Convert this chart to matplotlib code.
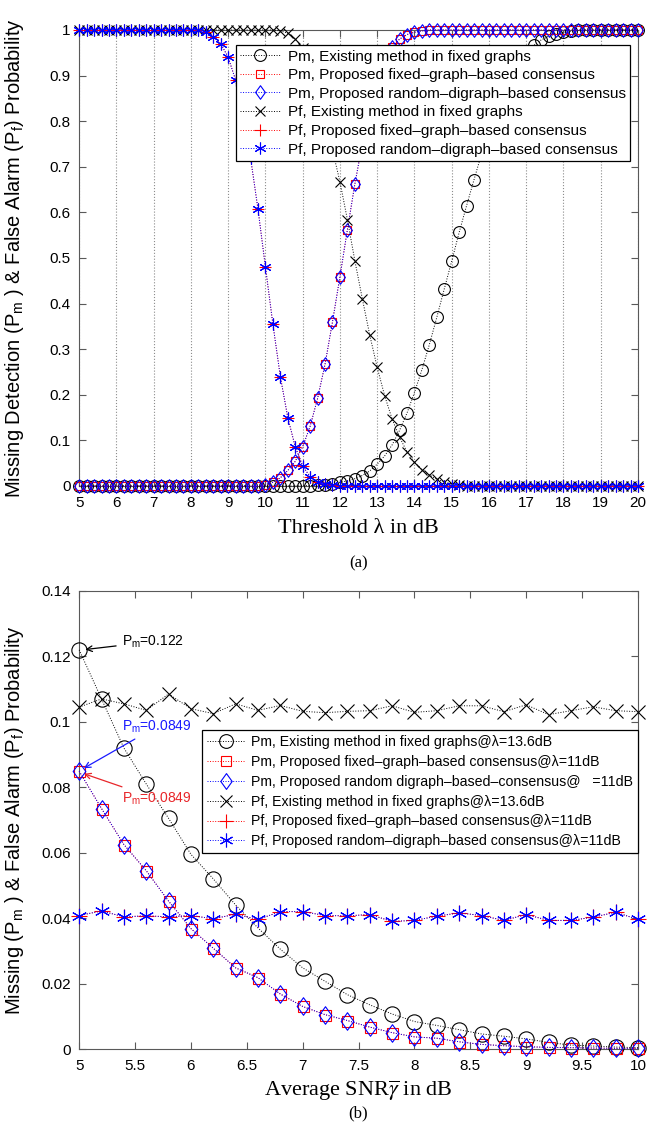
import matplotlib
matplotlib.use("Agg")
import matplotlib.pyplot as plt
import numpy as np
from matplotlib.ticker import FuncFormatter
from matplotlib.path import Path

plt.rcParams['font.family'] = ['Liberation Sans', 'DejaVu Sans']
plt.rcParams['mathtext.fontset'] = 'custom'
plt.rcParams['mathtext.rm'] = 'Liberation Sans'
plt.rcParams['mathtext.it'] = 'Liberation Sans:italic'

# ---- (a) threshold sweep, 5:0.2:20 dB
thr = np.round(np.arange(5.0, 20.01, 0.2), 1)

pm_exist_a = ([0.0] * 30 +
              [0.0005, 0.001, 0.002, 0.003, 0.005, 0.008, 0.011, 0.016, 0.023, 0.033,
               0.048, 0.066, 0.09, 0.122, 0.16, 0.205, 0.255, 0.31, 0.37, 0.432,
               0.493, 0.556, 0.615, 0.672, 0.728, 0.78, 0.826, 0.866, 0.9, 0.928,
               0.95, 0.966, 0.978, 0.986, 0.992, 0.995, 0.997, 0.999] +
              [1.0] * 8)
pm_prop_a = ([0.0] * 25 +
             [0.003, 0.008, 0.018, 0.034, 0.054, 0.086, 0.131, 0.192, 0.267, 0.36,
              0.459, 0.562, 0.662, 0.75, 0.83, 0.89, 0.935, 0.962, 0.98, 0.99,
              0.995, 0.998] +
             [1.0] * 29)
pf_exist_a = ([1.0] * 27 +
              [0.998, 0.993, 0.98, 0.96, 0.925, 0.875, 0.81, 0.737, 0.667, 0.584,
               0.494, 0.411, 0.331, 0.26, 0.198, 0.147, 0.107, 0.075, 0.052, 0.036,
               0.024, 0.015, 0.009, 0.005, 0.002, 0.001] +
              [0.0] * 23)
pf_prop_a = ([1.0] * 16 +
             [0.999, 0.995, 0.985, 0.97, 0.94, 0.89, 0.82, 0.72, 0.607, 0.48,
              0.355, 0.24, 0.15, 0.086, 0.044, 0.02, 0.009, 0.004, 0.002, 0.001] +
             [0.0] * 40)

labels_a = ['Pm, Existing method in fixed graphs',
            'Pm, Proposed fixed\u2013graph\u2013based consensus',
            'Pm, Proposed random\u2013digraph\u2013based consensus',
            'Pf, Existing method in fixed graphs',
            'Pf, Proposed fixed\u2013graph\u2013based consensus',
            'Pf, Proposed random\u2013digraph\u2013based consensus']

# ---- (b) average SNR sweep, 5:0.2:10 dB
snr = np.round(np.arange(5.0, 10.01, 0.2), 1)

pm_exist_b = [0.122, 0.107, 0.092, 0.081, 0.0705, 0.0595, 0.052, 0.044, 0.037, 0.0305,
              0.0248, 0.0207, 0.0166, 0.0135, 0.0107, 0.0084, 0.0072, 0.0059, 0.0046, 0.0039,
              0.0031, 0.002, 0.0012, 0.0009, 0.0006, 0.0004]
pm_prop_b = [0.0849, 0.0735, 0.0625, 0.0545, 0.0452, 0.0368, 0.0308, 0.0248, 0.0218, 0.0168,
             0.013, 0.0105, 0.0087, 0.0067, 0.005, 0.0037, 0.0033, 0.0022, 0.0014, 0.001,
             0.0007, 0.0005, 0.0004, 0.0003, 0.0002, 0.0002]
pf_exist_b = [0.1045, 0.107, 0.1055, 0.1035, 0.1085, 0.104, 0.1025, 0.1055, 0.1035, 0.105,
              0.1032, 0.1028, 0.1032, 0.1034, 0.1049, 0.1029, 0.1034, 0.1049, 0.1049, 0.1031,
              0.1052, 0.1022, 0.1034, 0.1046, 0.1034, 0.1031]
pf_prop_b = [0.0408, 0.0422, 0.0404, 0.0407, 0.0404, 0.0408, 0.0398, 0.0412, 0.0396, 0.042,
             0.042, 0.0408, 0.0407, 0.0411, 0.039, 0.0393, 0.0406, 0.0416, 0.0408, 0.0393,
             0.0411, 0.0393, 0.0393, 0.0403, 0.0418, 0.0396]

labels_b = ['Pm, Existing method in fixed graphs@\u03bb=13.6dB',
            'Pm, Proposed fixed\u2013graph\u2013based consensus@\u03bb=11dB',
            'Pm, Proposed random digraph\u2013based\u2013consensus@   =11dB',
            'Pf, Existing method in fixed graphs@\u03bb=13.6dB',
            'Pf, Proposed fixed\u2013graph\u2013based consensus@\u03bb=11dB',
            'Pf, Proposed random\u2013digraph\u2013based consensus@\u03bb=11dB']

# matlab-like diamond (a bit taller than wide) and 6-arm asterisk
diamond = Path([(0, 1), (0.72, 0), (0, -1), (-0.72, 0), (0, 1)],
               [Path.MOVETO, Path.LINETO, Path.LINETO, Path.LINETO, Path.CLOSEPOLY])
styles = [('k', 'o', 1.0), ('r', 's', 0.72), ('b', diamond, 1.15),
          ('k', 'x', 0.9), ('r', '+', 1.0), ('b', (6, 2, 0), 1.0)]
fmt = FuncFormatter(lambda v, p: '%g' % round(v, 4))

fig = plt.figure(figsize=(6.49, 11.31), dpi=100)


def draw(ax, x, series, labels, ms):
    for (c, m, k), y, lab in zip(styles, series, labels):
        ax.plot(x, y, linestyle=':', color=c, linewidth=0.7, marker=m,
                markersize=ms * k, markerfacecolor='none',
                markeredgecolor=c, markeredgewidth=0.8, label=lab, clip_on=False,
                zorder=3)
    ax.tick_params(direction='in', top=True, right=True, labelsize=11, length=5,
                   color='0.35')
    ax.tick_params(axis='x', pad=7)
    ax.tick_params(axis='y', pad=6)
    for s in ax.spines.values():
        s.set_color('0.35')
    ax.yaxis.set_major_formatter(fmt)
    ax.xaxis.set_major_formatter(fmt)


# (a)
ax1 = fig.add_axes([0.122, 0.5703, 0.861, 0.4032])
draw(ax1, thr, [pm_exist_a, pm_prop_a, pm_prop_a, pf_exist_a, pf_prop_a, pf_prop_a],
     labels_a, 8.5)
ax1.set_xlim(5, 20)
ax1.set_ylim(0, 1)
ax1.set_xticks(np.arange(5, 21, 1))
ax1.set_yticks(np.arange(0, 1.01, 0.1))
ax1.grid(axis='x', linestyle=':', color='0.55', linewidth=0.8)
ax1.set_xlabel('Threshold \u03bb in dB', family='Liberation Serif', fontsize=16, labelpad=7)
ax1.set_ylabel('Missing Detection (P$_\\mathrm{m}$ ) & False Alarm (P$_\\mathrm{f}$) Probability',
               fontsize=14.5)
ax1.yaxis.set_label_coords(-0.095, 0.5)
leg1 = ax1.legend(loc='upper right', bbox_to_anchor=(0.986, 0.967), fontsize=11,
                  fancybox=False, edgecolor='k', framealpha=1, borderpad=0.3,
                  labelspacing=0.3, handlelength=2.6, handletextpad=0.5,
                  borderaxespad=0)
leg1.get_frame().set_linewidth(0.9)
fig.text(0.552, 0.502, '(a)', family='Liberation Serif', fontsize=12, ha='center',
         va='center')

# (b)
ax2 = fig.add_axes([0.122, 0.0725, 0.861, 0.405])
draw(ax2, snr, [pm_exist_b, pm_prop_b, pm_prop_b, pf_exist_b, pf_prop_b, pf_prop_b],
     labels_b, 11)
ax2.set_xlim(5, 10)
ax2.set_ylim(0, 0.14)
ax2.set_xticks(np.arange(5, 10.01, 0.5))
ax2.set_yticks(np.arange(0, 0.141, 0.02))
ax2.set_xlabel('Average SNR$\\overline{\\gamma}$ in dB', family='Liberation Serif',
               fontsize=16, labelpad=4, math_fontfamily='stix')
ax2.set_ylabel('Missing (P$_\\mathrm{m}$ ) & False Alarm (P$_\\mathrm{f}$) Probability',
               fontsize=14.5)
ax2.yaxis.set_label_coords(-0.095, 0.5)
leg2 = ax2.legend(loc='upper right', bbox_to_anchor=(1.0, 0.697), fontsize=10.2,
                  fancybox=False, edgecolor='k', framealpha=1, borderpad=0.35,
                  labelspacing=0.42, handlelength=2.6, handletextpad=0.5,
                  borderaxespad=0, markerscale=0.9)
leg2.get_frame().set_linewidth(0.9)

ax2.annotate('P$_\\mathrm{m}$=0.122', xy=(snr[0] + 0.03, pm_exist_b[0]),
             xytext=(5.38, 0.1245), fontsize=10, color='k', va='center',
             arrowprops=dict(arrowstyle='->', color='k', lw=0.9))
ax2.annotate('P$_\\mathrm{m}$=0.0849', xy=(snr[0] + 0.02, pm_prop_b[0] + 0.0005),
             xytext=(5.38, 0.0985), fontsize=10, color='#1a1aff', va='center',
             arrowprops=dict(arrowstyle='->', color='#1a1aff', lw=0.9))
ax2.annotate('P$_\\mathrm{m}$=0.0849', xy=(snr[0] + 0.02, pm_prop_b[0] - 0.0005),
             xytext=(5.38, 0.0765), fontsize=10, color='#e8262a', va='center',
             arrowprops=dict(arrowstyle='->', color='#e8262a', lw=0.9))
fig.text(0.552, 0.016, '(b)', family='Liberation Serif', fontsize=12, ha='center',
         va='center')

fig.savefig('out.png', dpi=100)
